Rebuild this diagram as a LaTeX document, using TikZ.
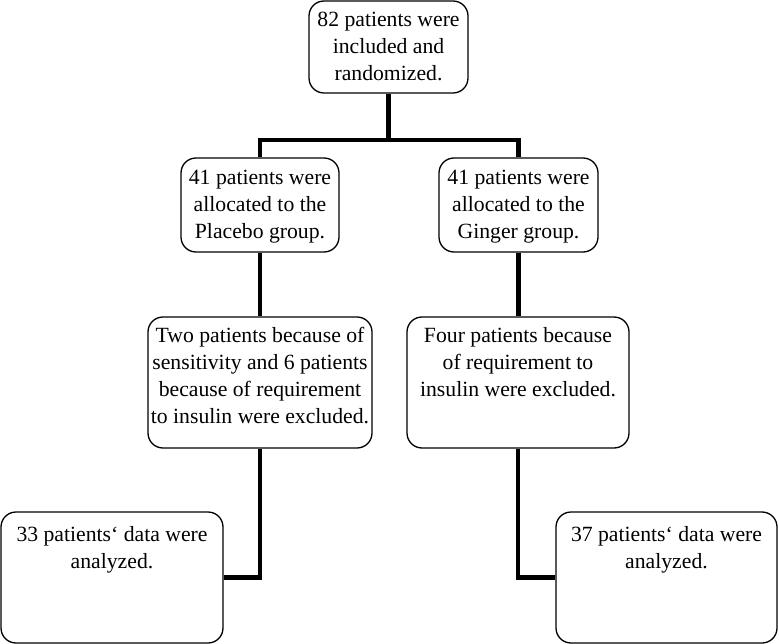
\documentclass[tikz,border=0pt]{standalone}
\usepackage{fontspec}
\setmainfont{Liberation Serif}
\newcommand{\bxtext}[4]{\parbox[c][#2][t]{#1}{\centering\rule{0pt}{#3}#4}}
\begin{document}
\begin{tikzpicture}[x=1pt,y=-1pt,
  box/.style={draw, rounded corners=15pt, line width=1.3pt, inner sep=0pt, align=center, font=\fontsize{21.7}{27}\selectfont},
  conn/.style={line width=4.5pt}]
\useasboundingbox (0,0) rectangle (779,644);
\node[box] (top) at (388.5,47) {\bxtext{159pt}{92pt}{26pt}{82 patients were\\included and\\randomized.}};
\node[box] (plac) at (260,205) {\bxtext{158pt}{94pt}{27pt}{41 patients were\\allocated to the\\Placebo group.}};
\node[box] (ging) at (518.5,205) {\bxtext{159pt}{94pt}{27pt}{41 patients were\\allocated to the\\Ginger group.}};
\node[box] (exl) at (260,382.5) {\bxtext{224pt}{131pt}{25pt}{Two patients because of\\sensitivity and 6 patients\\because of requirement\\to insulin were excluded.}};
\node[box] (exr) at (518,382.5) {\bxtext{222pt}{131pt}{25pt}{Four patients because\\of requirement to\\insulin were excluded.}};
\node[box] (botl) at (112,577.5) {\bxtext{222pt}{131pt}{29pt}{33 patients‘ data were\\analyzed.}};
\node[box] (botr) at (666.5,577.5) {\bxtext{221pt}{131pt}{29pt}{37 patients‘ data were\\analyzed.}};
\coordinate (bar) at (389,140);
\draw[conn] (top.south) -- (top.south|-bar);
\draw[conn] (plac.north) -- (plac.north|-bar) -- (ging.north|-bar) -- (ging.north);
\draw[conn] (plac.south) -- (exl.north);
\draw[conn] (ging.south) -- (ging.south|-exr.north);
\draw[conn] (exl.south) |- (botl.east);
\draw[conn] (exr.south) |- (botr.west);
\end{tikzpicture}
\end{document}
